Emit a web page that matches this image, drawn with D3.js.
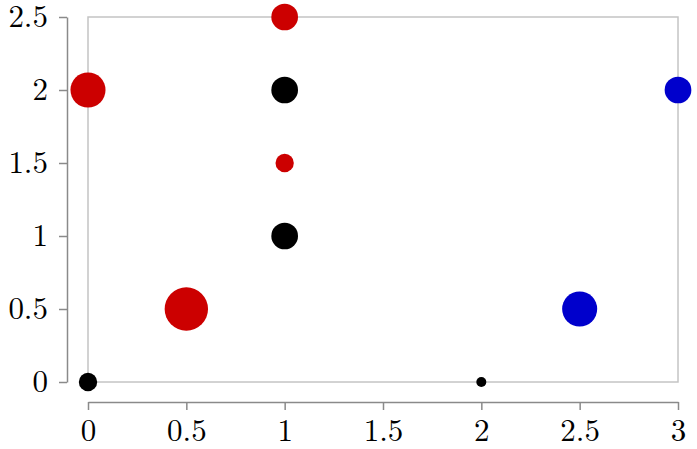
<!DOCTYPE html>
<html>
<head>
<meta charset="utf-8">
<script src="https://cdn.jsdelivr.net/npm/d3@7"></script>
<style>
  html, body { margin: 0; padding: 0; background: #fff; }
  svg text { font-family: "Latin Modern Roman", "Liberation Serif", "DejaVu Serif", serif; }
</style>
</head>
<body>
<div id="chart"></div>
<script>
// Point data
const xValues = [0, 2, 0, 0.5, 1, 1, 1, 1, 2.5, 3];
const yValues = [0, 0, 2, 0.5, 2.5, 2, 1.5, 1, 0.5, 2];
const sizes   = [2, 1, 4, 5, 3, 3, 2, 3, 4, 3];
const colors  = ["black", "black", "red", "red", "red", "black", "red", "black", "blue", "blue"];

const xTicks = [0, 0.5, 1, 1.5, 2, 2.5, 3];
const yTicks = [0, 0.5, 1, 1.5, 2, 2.5];

const palette = { black: "#000000", red: "#cc0000", blue: "#0000cc" };

const width = 697, height = 449;
const plot = { left: 88, right: 678, top: 17, bottom: 382 };

const svg = d3.select("#chart").append("svg")
  .attr("width", width)
  .attr("height", height);

const x = d3.scaleLinear().domain([0, 3]).range([plot.left, plot.right]);
const y = d3.scaleLinear().domain([0, 2.5]).range([plot.bottom, plot.top]);
const r = d3.scaleLinear().domain([1, 5]).range([5, 21.7]);

// light frame around the plot area
svg.append("rect")
  .attr("x", plot.left)
  .attr("y", plot.top)
  .attr("width", plot.right - plot.left)
  .attr("height", plot.bottom - plot.top)
  .attr("fill", "none")
  .attr("stroke", "#c4c4c4")
  .attr("stroke-width", 1.5);

// offset axes
const xAxis = d3.axisBottom(x)
  .tickValues(xTicks)
  .tickFormat(d3.format("~g"))
  .tickSizeInner(8)
  .tickSizeOuter(0)
  .tickPadding(9);

const yAxis = d3.axisLeft(y)
  .tickValues(yTicks)
  .tickFormat(d3.format("~g"))
  .tickSizeInner(8)
  .tickSizeOuter(0)
  .tickPadding(11);

const gx = svg.append("g")
  .attr("transform", `translate(0,${plot.bottom + 20})`)
  .call(xAxis);

const gy = svg.append("g")
  .attr("transform", `translate(${plot.left - 21},0)`)
  .call(yAxis);

[gx, gy].forEach(g => {
  g.select(".domain").attr("stroke", "#8a8a8a").attr("stroke-width", 1.5);
  g.selectAll(".tick line").attr("stroke", "#8a8a8a").attr("stroke-width", 1.5);
  g.selectAll(".tick text")
    .attr("fill", "#000")
    .style("font-size", "31px");
});

// points
const points = xValues.map((v, i) => ({ x: v, y: yValues[i], s: sizes[i], c: colors[i] }));

svg.append("g")
  .selectAll("circle")
  .data(points)
  .join("circle")
  .attr("cx", d => x(d.x))
  .attr("cy", d => y(d.y))
  .attr("r", d => r(d.s))
  .attr("fill", d => palette[d.c]);
</script>
</body>
</html>
